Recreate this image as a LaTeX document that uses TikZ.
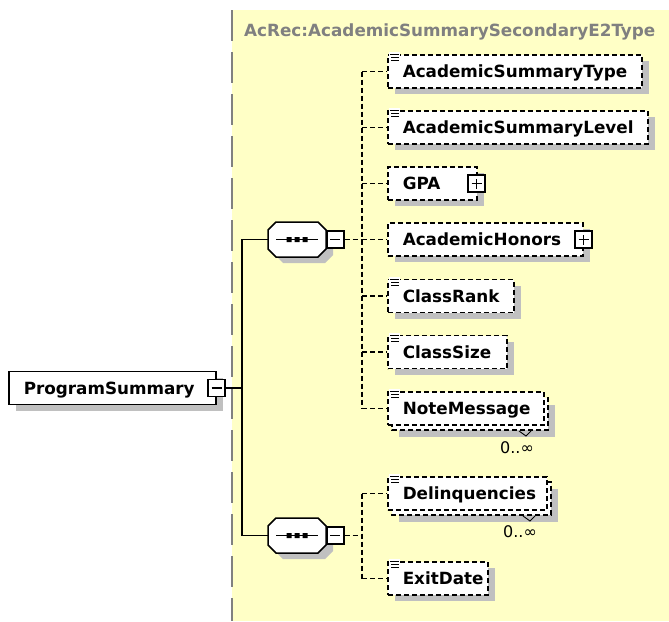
\documentclass[tikz,border=0pt]{standalone}
\usepackage{fontspec}
\setmainfont{DejaVu Sans}
\usetikzlibrary{shadows,calc}
\definecolor{bgyellow}{RGB}{255,255,198}
\definecolor{shgray}{RGB}{192,192,192}
\definecolor{ttgray}{RGB}{128,128,128}
\begin{document}
\begin{tikzpicture}[x=1pt,y=-1pt,
 lbl/.style={font=\fontsize{16.8}{19}\selectfont\bfseries},
 shd/.style={general shadow={fill=shgray, shadow xshift=7pt, shadow yshift=-6pt}},
 elembase/.style={lbl, draw, line width=1.5pt, fill=white, minimum height=33pt, inner xsep=15pt, inner ysep=0pt, text height=12pt, text depth=0pt, anchor=west, align=left, text width=#1},
 elem/.style={elembase=#1, dash pattern=on 5pt off 3pt, shd},
 multi/.style={elembase=#1, dash pattern=on 5pt off 3pt},
 conn/.style={line width=1.5pt},
 dconn/.style={line width=1.5pt, dash pattern=on 5pt off 3pt},
 seqnode/.style={minimum width=58pt, minimum height=35pt, inner sep=0pt},
 expbox/.style={draw, line width=1.5pt, fill=white, minimum width=17pt, minimum height=17pt, inner sep=0pt},
 minus/.style={expbox, path picture={\draw[line width=1.5pt] ([xshift=3.5pt]path picture bounding box.west) -- ([xshift=-3.5pt]path picture bounding box.east);}},
 plus/.style={expbox, path picture={\draw[line width=1.5pt] ([xshift=3.5pt]path picture bounding box.west) -- ([xshift=-3.5pt]path picture bounding box.east) ([yshift=3.5pt]path picture bounding box.south) -- ([yshift=-3.5pt]path picture bounding box.north);}},
 mult/.style={font=\fontsize{16}{18}\selectfont, inner sep=0pt}
]
\useasboundingbox (0,0) rectangle (669,621);
\fill[white] (0,0) rectangle (669,621);
% type area
\fill[bgyellow] (232,10) rectangle (669,621);
\draw[ttgray, line width=1.5pt, dash pattern=on 31pt off 11pt] (232,10) -- (232,621);
\node[lbl, text=ttgray, anchor=base west, inner sep=0pt] (title) at (244,36) {AcRec:AcademicSummarySecondaryE2Type};

% root element
\node[elembase=177pt, solid, shd] (ps) at (8,388) {ProgramSummary};
\node[minus] (psm) at (ps.east) {};

% sequences
\node[seqnode] (s1) at (297,239.5) {};
\node[seqnode] (s2) at (297,535.5) {};
\foreach \s in {s1,s2} {
  \fill[shgray, shift={($(\s.center)+(7,6)$)}] (-21,-17.5) -- (21,-17.5) -- (29,-9.5) -- (29,9.5) -- (21,17.5) -- (-21,17.5) -- (-29,9.5) -- (-29,-9.5) -- cycle;
  \draw[line width=1.5pt, fill=white, shift={(\s.center)}] (-21,-17.5) -- (21,-17.5) -- (29,-9.5) -- (29,9.5) -- (21,17.5) -- (-21,17.5) -- (-29,9.5) -- (-29,-9.5) -- cycle;
  \draw[line width=1.5pt, shift={(\s.center)}] (-21,0) -- (21,0);
  \fill[shift={(\s.center)}] (-10.5,-2.5) rectangle ++(5,5) (-2.5,-2.5) rectangle ++(5,5) (5.5,-2.5) rectangle ++(5,5);
}
\node[minus, anchor=west] (m1) at (s1.east) {};
\node[minus, anchor=west] (m2) at (s2.east) {};

% children of sequence 1
\node[elem=224pt] (b1) at (387,71.5) {AcademicSummaryType};
\node[elem=230pt] (b2) at (387,127.5) {AcademicSummaryLevel};
\node[elem=59pt] (b3) at (387,183.5) {GPA};
\node[plus] (p3) at ([xshift=-1pt]b3.east) {};
\node[elem=165pt] (b4) at (387,239.5) {AcademicHonors};
\node[plus] (p4) at (b4.east) {};
\node[elem=96pt] (b5) at (387,296) {ClassRank};
\node[elem=89pt] (b6) at (387,352) {ClassSize};
\fill[shgray] (399,405) rectangle (555,437);
\draw[fill=white, line width=1.5pt, dash pattern=on 5pt off 3pt] (392,398) rectangle (548,430);
\node[multi=126pt] (b7) at (387,408.5) {NoteMessage};
\draw[line width=0.9pt] (519,431) -- (526,436) -- (531,431);
\node[mult] (q7) at (517,448) {0..∞};

% children of sequence 2
\fill[shgray] (399,489) rectangle (558,522);
\draw[fill=white, line width=1.5pt, dash pattern=on 5pt off 3pt] (392,482) rectangle (551,515);
\node[multi=129pt] (b8) at (387,493.5) {Delinquencies};
\draw[line width=0.9pt] (523,516) -- (530,521) -- (535,516);
\node[mult] (q8) at (520,532) {0..∞};
\node[elem=70pt] (b9) at (387,578.5) {ExitDate};

% simple-type icons
\foreach \b in {b1,b2,b5,b6,b7,b8,b9} {
  \fill[white] ([shift={(2,-2)}]\b.north west) rectangle ([shift={(13,8)}]\b.north west);
  \draw[line width=1pt] ([shift={(3,0.5)}]\b.north west) -- ++(9,0)
                        ([shift={(4,3.5)}]\b.north west) -- ++(8,0)
                        ([shift={(4,6.5)}]\b.north west) -- ++(8,0);
}

% connectors
\coordinate (j) at (242,388);
\draw[conn] (psm.east) -- (j);
\draw[conn] (s1.west) -- (s1.west -| j) -- (s2.west -| j) -- (s2.west);

\coordinate (t1) at (362,239.5);
\draw[dconn] (m1.east) -- (t1);
\draw[dconn] (b1.west -| t1) -- (b7.west -| t1);
\foreach \b in {b1,b2,b3,b4,b5,b6,b7} {
  \draw[dconn] (\b.west -| t1) -- (\b.west);
}

\coordinate (t2) at (362,535.5);
\draw[dconn] (m2.east) -- (t2);
\draw[dconn] (b8.west -| t2) -- (b9.west -| t2);
\foreach \b in {b8,b9} {
  \draw[dconn] (\b.west -| t2) -- (\b.west);
}
\end{tikzpicture}
\end{document}
